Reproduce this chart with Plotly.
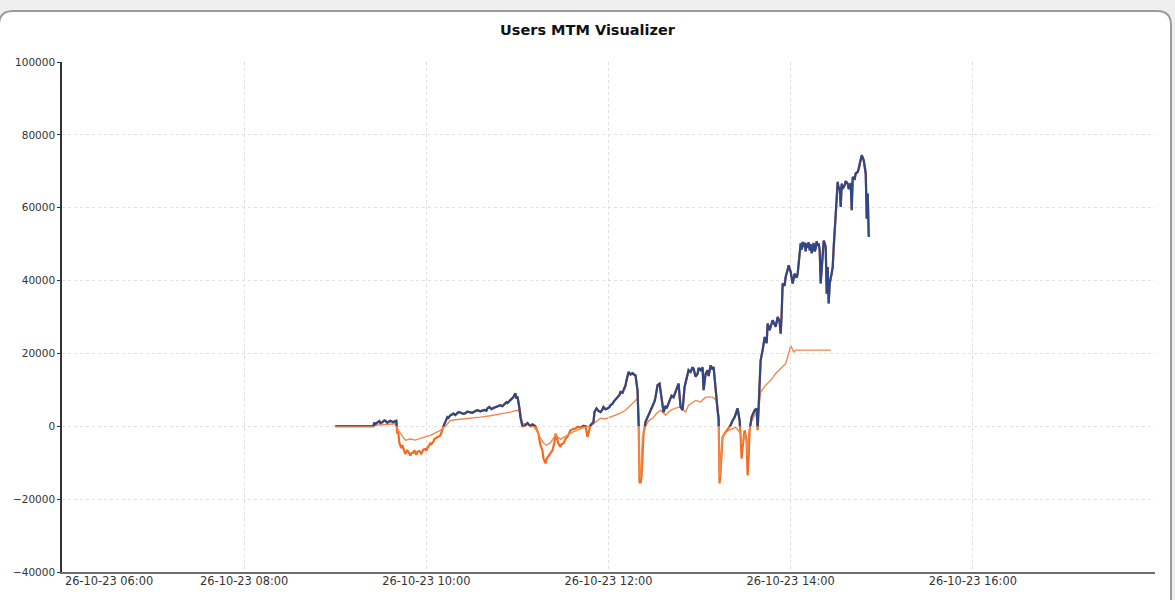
import plotly.graph_objects as go

DAY = "2023-10-26 "

# Main MTM series (blue above zero, orange below zero): (time, value)
main_points = [
    ("09:00:00", 0), ("09:25:03", 0), ("09:25:43", 1000), ("09:26:22", 600), ("09:27:02", 800),
    ("09:28:21", 1300), ("09:29:01", 1400), ("09:29:40", 900), ("09:30:59", 1100), ("09:32:19", 1600),
    ("09:32:58", 1500), ("09:34:17", 1000), ("09:34:57", 1200), ("09:36:16", 1500), ("09:36:55", 1400),
    ("09:38:14", 1100), ("09:38:54", 1300), ("09:40:13", 1500), ("09:40:53", -2000), ("09:41:32", -1500),
    ("09:42:12", -4500), ("09:43:31", -6000), ("09:44:11", -5200), ("09:45:29", -7000), ("09:46:09", -7600),
    ("09:47:28", -6500), ("09:48:47", -7300), ("09:49:27", -8000), ("09:50:07", -7400), ("09:51:26", -7200),
    ("09:52:05", -6600), ("09:53:25", -7800), ("09:54:04", -7000), ("09:55:23", -6800), ("09:56:42", -7500),
    ("09:57:22", -7000), ("09:58:01", -6400), ("09:59:20", -6200), ("10:00:00", -6700), ("10:00:40", -6000),
    ("10:01:59", -5200), ("10:02:38", -4700), ("10:03:18", -4900), ("10:04:37", -4200), ("10:05:16", -3500),
    ("10:06:35", -3200), ("10:07:55", -2900), ("10:09:14", -2500), ("10:10:33", -1000), ("10:11:13", 0),
    ("10:12:32", 1200), ("10:13:51", 2500), ("10:14:31", 2300), ("10:15:49", 3000), ("10:17:08", 3300),
    ("10:17:48", 3500), ("10:19:07", 3100), ("10:19:47", 3300), ("10:21:06", 3900), ("10:22:25", 3800),
    ("10:24:24", 3400), ("10:25:43", 3600), ("10:27:02", 4000), ("10:29:01", 3800), ("10:30:20", 3700),
    ("10:32:19", 4200), ("10:33:38", 4400), ("10:35:36", 4100), ("10:36:55", 4300), ("10:38:14", 4500),
    ("10:39:34", 4300), ("10:40:13", 4900), ("10:41:32", 5300), ("10:42:52", 4700), ("10:44:11", 5000),
    ("10:45:29", 5200), ("10:46:49", 5600), ("10:48:47", 5800), ("10:50:07", 5500), ("10:51:26", 6000),
    ("10:52:45", 6600), ("10:53:25", 6400), ("10:54:44", 6900), ("10:55:23", 7200), ("10:56:42", 7800),
    ("10:57:22", 8000), ("10:58:01", 8600), ("10:58:41", 9000), ("10:59:20", 7600), ("11:00:00", 8200),
    ("11:01:19", 5000), ("11:01:59", 2500), ("11:03:18", 0), ("11:05:16", 300), ("11:06:35", 900),
    ("11:08:34", 0), ("11:09:53", 500), ("11:11:52", 0), ("11:13:51", -2000), ("11:15:10", -5200),
    ("11:16:29", -6600), ("11:17:08", -8800), ("11:18:28", -10200), ("11:19:07", -9000), ("11:20:26", -8200),
    ("11:21:46", -7200), ("11:23:05", -6600), ("11:24:24", -4500), ("11:25:03", -2000), ("11:26:22", -3800),
    ("11:27:02", -4800), ("11:28:21", -5700), ("11:29:01", -4900), ("11:30:20", -4700), ("11:31:39", -3500),
    ("11:32:58", -2900), ("11:34:57", -1100), ("11:36:16", -800), ("11:38:14", -600), ("11:39:34", -200),
    ("11:41:32", -300), ("11:43:31", 100), ("11:44:50", 0), ("11:46:09", -2900), ("11:48:08", 300),
    ("11:50:07", 1200), ("11:50:46", 3900), ("11:52:05", 4900), ("11:53:25", 4200), ("11:54:44", 3900),
    ("11:56:02", 4600), ("11:56:42", 5300), ("11:58:01", 4700), ("11:59:20", 4900), ("12:00:40", 5300),
    ("12:01:19", 5800), ("12:02:38", 6200), ("12:03:18", 6700), ("12:04:37", 7400), ("12:05:56", 8000),
    ("12:07:15", 8600), ("12:07:55", 9400), ("12:09:14", 9200), ("12:09:53", 9900), ("12:11:13", 11200),
    ("12:11:52", 12600), ("12:13:11", 14900), ("12:14:31", 14200), ("12:15:49", 14600), ("12:17:08", 14100),
    ("12:17:48", 14000), ("12:19:07", 9900), ("12:19:47", 2500), ("12:20:26", -15300), ("12:21:06", -15600),
    ("12:21:46", -13900), ("12:22:25", -5700), ("12:23:05", -2000), ("12:24:24", 1200), ("12:26:22", 3000),
    ("12:27:41", 4200), ("12:29:01", 5300), ("12:30:20", 6800), ("12:30:59", 8000), ("12:32:19", 11300),
    ("12:33:38", 11700), ("12:34:57", 8000), ("12:36:16", 3900), ("12:37:35", 5600), ("12:38:14", 4900),
    ("12:39:34", 6300), ("12:40:13", 7100), ("12:41:32", 8400), ("12:42:52", 8000), ("12:44:11", 9500),
    ("12:44:50", 10800), ("12:46:09", 11700), ("12:47:28", 5300), ("12:48:47", 4400), ("12:50:07", 10800),
    ("12:51:26", 13500), ("12:52:45", 15400), ("12:54:04", 14900), ("12:55:23", 16200), ("12:56:02", 15800),
    ("12:57:22", 13600), ("12:58:41", 14400), ("12:59:20", 16000), ("13:00:40", 15400), ("13:01:59", 16200),
    ("13:02:38", 9900), ("13:03:58", 14400), ("13:05:16", 15400), ("13:05:56", 13800), ("13:07:15", 16700),
    ("13:08:34", 15600), ("13:09:14", 16300), ("13:10:33", 9000), ("13:11:52", 4400), ("13:12:32", 2200),
    ("13:13:11", -15700), ("13:13:51", -12100), ("13:14:31", -6600), ("13:15:10", -2900), ("13:17:08", -1600),
    ("13:19:07", -600), ("13:20:26", 300), ("13:21:46", 1600), ("13:23:05", 2500), ("13:25:03", 4900),
    ("13:26:22", 1600), ("13:27:02", -2900), ("13:27:41", -8900), ("13:28:21", -5700), ("13:29:40", -1100),
    ("13:30:59", -3800), ("13:31:39", -13500), ("13:32:19", -8400), ("13:32:58", -1100), ("13:34:17", 2500),
    ("13:35:36", 3700), ("13:36:16", 4400), ("13:37:35", 4900), ("13:38:14", -1100), ("13:38:54", 5300),
    ("13:39:34", 12600), ("13:40:13", 18100), ("13:41:32", 20900), ("13:42:52", 24500), ("13:44:11", 22800),
    ("13:44:50", 28200), ("13:46:09", 26400), ("13:47:28", 28800), ("13:48:08", 29100), ("13:50:07", 27300),
    ("13:51:26", 30000), ("13:52:45", 28600), ("13:53:25", 25400), ("13:54:04", 30900), ("13:54:44", 39200),
    ("13:56:02", 38600), ("13:56:42", 41000), ("13:58:01", 43000), ("13:58:41", 44200), ("14:00:00", 42400),
    ("14:01:19", 39200), ("14:02:38", 41900), ("14:03:58", 40800), ("14:04:37", 41900), ("14:05:16", 44700),
    ("14:05:56", 46500), ("14:06:35", 50200), ("14:07:15", 48500), ("14:07:55", 50600), ("14:08:34", 49200),
    ("14:09:14", 50400), ("14:09:53", 48000), ("14:10:33", 50200), ("14:11:13", 49000), ("14:11:52", 50500),
    ("14:12:32", 48300), ("14:13:11", 50000), ("14:13:51", 47500), ("14:14:31", 49700), ("14:15:10", 50300),
    ("14:15:49", 48000), ("14:16:29", 48800), ("14:17:08", 50800), ("14:17:48", 49500), ("14:18:28", 50200),
    ("14:19:07", 48300), ("14:19:47", 39200), ("14:20:26", 42400), ("14:21:46", 51000), ("14:22:25", 50200),
    ("14:23:05", 49200), ("14:23:44", 36400), ("14:24:24", 43700), ("14:25:03", 33700), ("14:25:43", 39200),
    ("14:27:02", 42000), ("14:27:41", 43700), ("14:28:21", 49200), ("14:29:01", 54700), ("14:29:40", 56500),
    ("14:30:20", 62000), ("14:30:59", 67100), ("14:31:39", 65000), ("14:32:19", 65700), ("14:32:58", 60200),
    ("14:33:38", 66600), ("14:34:17", 65200), ("14:35:36", 66200), ("14:36:16", 67300), ("14:37:35", 66600),
    ("14:38:14", 65100), ("14:38:54", 65700), ("14:39:34", 66800), ("14:40:13", 59300), ("14:40:53", 68400),
    ("14:42:12", 68000), ("14:42:52", 69400), ("14:44:11", 69800), ("14:44:50", 70800), ("14:45:29", 72100),
    ("14:46:49", 74400), ("14:48:08", 73000), ("14:49:27", 69400), ("14:50:07", 57000), ("14:50:46", 63900),
    ("14:51:26", 52000),
]

# Second series (light orange): (time, value)
second_points = [
    ("09:00:00", 0), ("09:25:03", 0), ("09:25:43", 300), ("09:32:58", 600), ("09:40:13", 700),
    ("09:41:32", -1100), ("09:44:11", -2500), ("09:46:09", -3800), ("09:49:27", -3500), ("09:52:45", -3800),
    ("09:56:02", -3300), ("09:59:20", -3000), ("10:02:38", -2500), ("10:05:56", -1800), ("10:09:14", -1100),
    ("10:12:32", 0), ("10:15:49", 1600), ("10:19:07", 1800), ("10:22:25", 1900), ("10:29:01", 2100),
    ("10:35:36", 2500), ("10:42:12", 2900), ("10:48:47", 3300), ("10:52:05", 3500), ("10:55:23", 3900),
    ("10:58:41", 4300), ("11:00:40", 4400), ("11:01:59", 3800), ("11:03:18", 800), ("11:07:15", 500),
    ("11:10:33", 0), ("11:13:11", -1500), ("11:15:10", -3300), ("11:17:08", -4500), ("11:19:07", -5200),
    ("11:21:46", -4500), ("11:25:03", -2500), ("11:28:21", -3600), ("11:30:59", -3000), ("11:32:58", -2500),
    ("11:36:16", -1600), ("11:41:32", -700), ("11:44:50", -200), ("11:48:08", 0), ("11:51:26", 1200),
    ("11:54:44", 2200), ("11:58:01", 2000), ("12:01:19", 2500), ("12:04:37", 2900), ("12:07:55", 3600),
    ("12:11:13", 4400), ("12:14:31", 5800), ("12:17:48", 7100), ("12:19:07", 7600), ("12:19:47", 3000),
    ("12:20:26", -12000), ("12:21:06", -14500), ("12:21:46", -10000), ("12:22:25", -3000), ("12:24:24", 0),
    ("12:26:22", 1500), ("12:29:01", 2200), ("12:31:39", 3500), ("12:34:17", 4400), ("12:37:35", 3000),
    ("12:40:53", 4400), ("12:44:11", 5000), ("12:47:28", 5300), ("12:50:46", 3900), ("12:52:45", 5800),
    ("12:57:22", 7100), ("13:00:40", 6700), ("13:03:58", 8000), ("13:08:34", 8000), ("13:11:13", 7100),
    ("13:12:32", 2000), ("13:13:11", -14000), ("13:13:51", -10000), ("13:15:10", -2900), ("13:17:08", -1800),
    ("13:19:07", -1100), ("13:23:44", -300), ("13:27:02", -2000), ("13:27:41", -5000), ("13:30:20", -2000),
    ("13:31:39", -8000), ("13:32:19", -2000), ("13:33:38", 800), ("13:36:55", 3500), ("13:38:54", 4400),
    ("13:40:13", 9400), ("13:43:31", 11300), ("13:46:49", 12600), ("13:50:07", 14500), ("13:53:25", 15800),
    ("13:56:42", 17200), ("13:58:41", 20000), ("14:00:00", 22200), ("14:01:59", 20400), ("14:03:18", 20900),
    ("14:26:22", 20900),
]

x_tick_times = ["08:00", "10:00", "12:00", "14:00", "16:00", "18:00"]
x_tick_labels = ["26-10-23 08:00", "26-10-23 10:00", "26-10-23 12:00",
                 "26-10-23 14:00", "26-10-23 16:00", ""]
first_tick_label = "26-10-23 06:00"
y_ticks = [-40000, -20000, 0, 20000, 40000, 60000, 80000, 100000]

BLUE = "#2d4789"
ORANGE = "#f36b1e"
LIGHT_ORANGE = "#f08a4c"
FONT = "DejaVu Sans, Verdana, sans-serif"

main_x = [DAY + t for t, _ in main_points]
main_y = [v for _, v in main_points]
second_x = [DAY + t for t, _ in second_points]
second_y = [v for _, v in second_points]

W, H = 1175, 600
ML, MR, MT, MB = 62, 20, 62, 28
Y_MIN, Y_MAX = -40000, 100000

fig = go.Figure()
# main series drawn fully in orange (visible where below zero)
fig.add_trace(go.Scatter(x=main_x, y=main_y, mode="lines",
                         line=dict(color=ORANGE, width=2.2), xaxis="x", yaxis="y",
                         showlegend=False, hoverinfo="skip"))
fig.add_trace(go.Scatter(x=second_x, y=second_y, mode="lines",
                         line=dict(color=LIGHT_ORANGE, width=1.4), xaxis="x", yaxis="y",
                         showlegend=False))
# same main series in blue, clipped to the positive half of the plot
fig.add_trace(go.Scatter(x=main_x, y=main_y, mode="lines",
                         line=dict(color=BLUE, width=2.2), xaxis="x", yaxis="y2",
                         showlegend=False))

pw = W - ML - MR
ph = H - MT - MB


def px(xp):
    return (xp - ML) / pw


def py(yp):
    return (H - MB - yp) / ph


# card with rounded corners
L, R, T, B, r = -1, 1171, 11, 620, 14
path = (f"M {px(L)},{py(T + r)} Q {px(L)},{py(T)} {px(L + r)},{py(T)} "
        f"L {px(R - r)},{py(T)} Q {px(R)},{py(T)} {px(R)},{py(T + r)} "
        f"L {px(R)},{py(B)} L {px(L)},{py(B)} Z")

zero_frac = (0 - Y_MIN) / (Y_MAX - Y_MIN)

fig.update_layout(
    width=W, height=H,
    margin=dict(l=ML, r=MR, t=MT, b=MB, autoexpand=False),
    paper_bgcolor="#efefef",
    plot_bgcolor="rgba(0,0,0,0)",
    title=dict(text="<b>Users MTM Visualizer</b>", x=0.5, xanchor="center",
               y=1 - 30 / H, yanchor="middle",
               font=dict(family=FONT, size=14.5, color="#111")),
    font=dict(family=FONT, size=10.5, color="#333"),
    xaxis=dict(type="date", range=[DAY + "06:00", DAY + "18:00"],
               tickvals=[DAY + t for t in x_tick_times], ticktext=x_tick_labels,
               showgrid=True, gridcolor="#dedede", griddash="dot", gridwidth=1,
               showline=True, linecolor="#6e6e6e", linewidth=2,
               ticks="", ticklabelstandoff=-3,
               zeroline=False, anchor="y", domain=[0, 1], automargin=False,
               tickfont=dict(family=FONT, size=11.4, color="#333")),
    yaxis=dict(range=[Y_MIN, Y_MAX], tickvals=y_ticks, tickformat="d",
               showgrid=True, gridcolor="#e2e2e2", griddash="dot", gridwidth=1,
               showline=True, linecolor="#333", linewidth=1.5,
               ticks="outside", ticklen=3, tickcolor="#333",
               zeroline=False, domain=[0, 1], anchor="x", automargin=False,
               tickfont=dict(family=FONT, size=10.5, color="#333")),
    yaxis2=dict(range=[0, Y_MAX], domain=[zero_frac, 1], anchor="x",
                showgrid=False, showline=False, zeroline=False, automargin=False,
                showticklabels=False, ticks=""),
    shapes=[dict(type="path", path=path, xref="paper", yref="paper",
                 fillcolor="white", line=dict(color="#9a9a9a", width=2),
                 layer="below")],
    annotations=[dict(text=first_tick_label, x=DAY + "06:00", y=0, xref="x", yref="paper",
                      xanchor="left", yanchor="top", xshift=1, yshift=0, showarrow=False,
                      font=dict(family=FONT, size=11.4, color="#333"))],
)

fig.write_html("out.html", config={"displayModeBar": False},
               post_script="document.body.style.margin='0';document.body.style.overflow='hidden';")
